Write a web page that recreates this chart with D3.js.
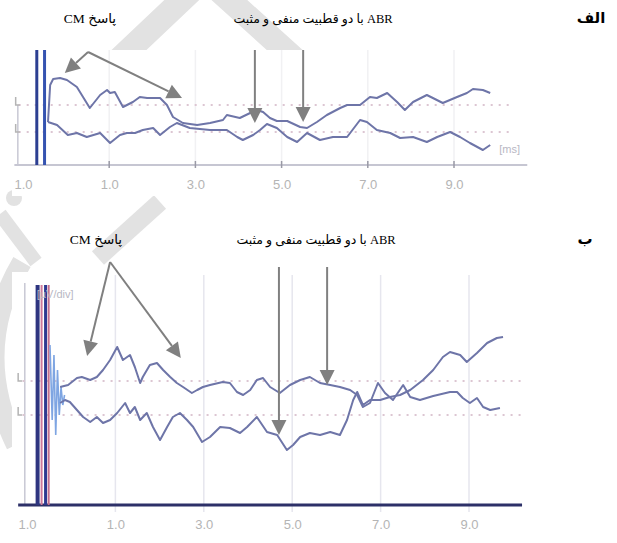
<!DOCTYPE html>
<html>
<head>
<meta charset="utf-8">
<script src="https://cdn.jsdelivr.net/npm/d3@7"></script>
<style>
  body { margin: 0; background: #fff; }
  text { font-family: "Liberation Sans", Arial, sans-serif; }
  .fa { font-family: "Liberation Serif", "DejaVu Sans", serif; }
</style>
</head>
<body>
<svg id="fig" width="617" height="543"></svg>
<script>
// x in ms, y in display units (baseline-relative amplitude)
var tickValues = [-1, 1, 3, 5, 7, 9];
var tickLabels = ["1.0", "1.0", "3.0", "5.0", "7.0", "9.0"];

// panel "الف"
var upperA = [[-0.42,43],[-0.37,80],[-0.30,86],[-0.14,87],[0.02,85],[0.25,78],[0.55,57],[0.79,70],[0.95,75],[1.02,72],[1.13,73],[1.32,58],[1.55,63],[1.71,68],[1.88,67],[2.18,67],[2.34,60],[2.48,48],[2.71,42],[3.04,40],[3.34,42],[3.64,45],[3.73,50],[4.03,47],[4.27,52],[4.43,55],[4.57,53],[4.73,47],[4.89,44],[5.13,44],[5.43,38],[5.59,37],[5.82,43],[6.05,50],[6.36,57],[6.52,60],[6.82,60],[7.05,68],[7.21,67],[7.45,72],[7.68,63],[7.86,55],[8.05,63],[8.37,70],[8.51,67],[8.74,62],[9.07,68],[9.30,72],[9.44,76],[9.67,75],[9.84,72]];
var lowerA = [[-0.42,43],[-0.21,40],[0.04,30],[0.25,32],[0.48,28],[0.79,32],[1.02,22],[1.25,30],[1.41,32],[1.60,32],[1.78,35],[2.02,37],[2.18,30],[2.41,38],[2.57,42],[2.87,37],[3.34,35],[3.73,35],[3.97,28],[4.10,25],[4.34,30],[4.50,35],[4.66,41],[4.89,37],[5.13,28],[5.36,23],[5.59,32],[5.89,25],[6.19,28],[6.52,28],[6.82,45],[6.98,43],[7.21,35],[7.52,32],[7.75,27],[8.05,28],[8.37,23],[8.61,28],[8.91,33],[9.14,28],[9.37,22],[9.67,15],[9.84,20]];
var artifactA = [[-0.68, "#2c3f92", 3], [-0.50, "#3553b0", 3]];
var baselinesA = [60, 33];

// panel "ب"
var upperB = [[-0.25,118],[-0.07,120],[0.13,127],[0.24,128],[0.43,125],[0.58,128],[0.72,135],[0.88,145],[1.04,158],[1.17,145],[1.33,150],[1.44,138],[1.56,122],[1.62,128],[1.78,140],[1.94,142],[2.08,135],[2.24,128],[2.39,122],[2.53,118],[2.73,112],[2.85,115],[2.98,118],[3.14,120],[3.43,123],[3.59,122],[3.75,113],[3.89,110],[4.05,115],[4.20,125],[4.34,127],[4.50,118],[4.72,112],[4.95,120],[5.18,125],[5.40,128],[5.63,122],[5.86,120],[6.08,118],[6.31,115],[6.47,110],[6.60,98],[6.76,102],[6.94,122],[7.10,112],[7.28,105],[7.51,120],[7.67,108],[7.89,105],[8.19,109],[8.57,113],[8.73,113],[8.86,107],[9.02,102],[9.18,107],[9.32,98],[9.48,95],[9.70,97]];
var lowerB = [[-0.25,102],[-0.14,105],[-0.03,103],[0.13,95],[0.27,88],[0.43,83],[0.58,88],[0.72,82],[0.88,85],[1.04,92],[1.22,102],[1.33,92],[1.44,98],[1.56,85],[1.71,92],[1.85,78],[2.01,65],[2.17,78],[2.30,88],[2.46,92],[2.62,85],[2.76,78],[2.96,63],[3.14,68],[3.37,78],[3.59,77],[3.82,72],[3.98,78],[4.20,88],[4.43,73],[4.66,70],[4.88,55],[5.02,60],[5.18,68],[5.40,72],[5.63,70],[5.86,73],[6.08,70],[6.24,85],[6.38,105],[6.47,113],[6.60,100],[6.76,105],[6.99,105],[7.21,108],[7.44,110],[7.67,115],[7.96,125],[8.19,135],[8.41,148],[8.57,153],[8.80,150],[8.95,143],[9.18,152],[9.41,162],[9.63,167],[9.77,168]];
var ringB = [[-0.48,160],[-0.43,85],[-0.39,150],[-0.35,70],[-0.31,135],[-0.27,90],[-0.23,118],[-0.19,100],[-0.15,110]];
var artifactB = [[-0.76, "#2e3580", 4], [-0.67, "#d07a9a", 2], [-0.58, "#2e3a90", 3], [-0.51, "#c4708e", 2]];
var baselinesB = [124, 90];

// annotation arrows [x0, y0, x1, y1] in data units
var cmArrowsA = [[0.51,113,-0.03,92],[0.51,113,2.69,67]];
var abrArrowsA = [[4.38,115,4.38,42],[5.50,115,5.50,43]];
var cmArrowsB = [[0.88,243,0.36,149],[0.88,243,2.48,147]];
var abrArrowsB = [[4.70,238,4.70,70],[5.79,238,5.79,120]];

var labelCM = "پاسخ CM";
var labelABR = "ABR با دو قطبیت منفی و مثبت";
var panelNames = ["الف", "ب"];

var svg = d3.select("#fig");

// faint watermark behind the figure
var wm = svg.append("g").attr("fill", "none").attr("stroke", "#e2e2e2");
wm.append("path").attr("d", "M 110 68 L 205 -22 L 298 62").attr("stroke-width", 24);
wm.append("path").attr("d", "M 22 262 Q -30 350 16 445").attr("stroke-width", 20);
wm.append("path").attr("d", "M 0 214 L 36 262").attr("stroke-width", 14);
wm.append("path").attr("d", "M 160 202 L 98 258").attr("stroke-width", 18);
wm.append("circle").attr("cx", 14).attr("cy", 198).attr("r", 8).attr("fill", "#e2e2e2").attr("stroke", "none");

function arrow(g, x0, y0, x1, y1) {
  var dx = x1 - x0, dy = y1 - y0, len = Math.sqrt(dx * dx + dy * dy);
  var ux = dx / len, uy = dy / len, hl = 15, hw = 7.5;
  var bx = x1 - ux * hl, by = y1 - uy * hl;
  g.append("line").attr("x1", x0).attr("y1", y0).attr("x2", bx).attr("y2", by)
    .attr("stroke", "#808080").attr("stroke-width", 2);
  g.append("path")
    .attr("d", "M" + x1 + "," + y1 + "L" + (bx - uy * hw) + "," + (by + ux * hw) + "L" + (bx + uy * hw) + "," + (by - ux * hw) + "Z")
    .attr("fill", "#808080");
}

function panel(o) {
  var x = d3.scaleLinear().domain([-1, 9]).range(o.xRange);
  var y = d3.scaleLinear().domain(o.yDomain).range(o.yRange);
  var g = svg.append("g");

  g.append("rect").attr("x", o.box[0]).attr("y", o.box[1])
    .attr("width", o.box[2]).attr("height", o.box[3]).attr("fill", "#fff");

  // vertical grid
  g.selectAll(".grid").data(tickValues.slice(1)).enter().append("line")
    .attr("x1", function(d) { return x(d); }).attr("x2", function(d) { return x(d); })
    .attr("y1", y(o.yDomain[1])).attr("y2", y(0) + o.gridBelow)
    .attr("stroke", o.gridColor).attr("stroke-width", 1.5);

  // left axis
  g.append("line").attr("x1", x(o.leftAxis)).attr("x2", x(o.leftAxis))
    .attr("y1", y(o.leftTop)).attr("y2", y(0))
    .attr("stroke", "#c8c8d4").attr("stroke-width", 1.5);

  // dotted baselines + L markers
  o.baselines.forEach(function(b) {
    g.append("line").attr("x1", x(-1.1)).attr("x2", x(10.3))
      .attr("y1", y(b)).attr("y2", y(b))
      .attr("stroke", "#dcc6d2").attr("stroke-width", 2).attr("stroke-dasharray", "2,6");
    g.append("path")
      .attr("d", "M" + x(o.leftMark) + "," + (y(b) - 8) + "V" + y(b) + "h4")
      .attr("fill", "none").attr("stroke", "#b4b4b4").attr("stroke-width", 1.5);
  });

  // x axis line
  g.append("line").attr("x1", x(-1.2)).attr("x2", x(o.axisEnd))
    .attr("y1", y(0)).attr("y2", y(0))
    .attr("stroke", o.axisColor).attr("stroke-width", o.axisWidth);
  if (o.axisTicks) {
    g.selectAll(".tk").data(tickValues.slice(1)).enter().append("line")
      .attr("x1", function(d) { return x(d); }).attr("x2", function(d) { return x(d); })
      .attr("y1", y(0) - 4).attr("y2", y(0) + 3)
      .attr("stroke", "#9a9aa6").attr("stroke-width", 1.5);
  }

  var axis = d3.axisBottom(x).tickValues(tickValues).tickSize(0)
    .tickFormat(function(d, i) { return tickLabels[i]; });
  var ax = g.append("g").attr("transform", "translate(0," + (y(0) + o.labelGap) + ")").call(axis);
  ax.select(".domain").remove();
  ax.selectAll("text").attr("fill", "#b4b4b4").attr("font-size", 13)
    .style("font-family", "'Liberation Sans', Arial, sans-serif");

  // stimulus artifact
  o.artifact.forEach(function(a) {
    g.append("line").attr("x1", x(a[0])).attr("x2", x(a[0]))
      .attr("y1", y(o.artifactTop)).attr("y2", y(0))
      .attr("stroke", a[1]).attr("stroke-width", a[2]);
  });

  var line = d3.line().x(function(d) { return x(d[0]); }).y(function(d) { return y(d[1]); });
  if (o.ring) {
    g.append("path").attr("d", line(o.ring)).attr("fill", "none")
      .attr("stroke", "#7ea5e2").attr("stroke-width", 1.6);
  }
  [o.upper, o.lower].forEach(function(s) {
    g.append("path").attr("d", line(s)).attr("fill", "none")
      .attr("stroke", "#6e75a8").attr("stroke-width", 2).attr("stroke-linejoin", "round");
  });

  if (o.unit) {
    g.append("text").attr("x", x(o.unit[0])).attr("y", y(o.unit[1]))
      .attr("fill", "#b8b8c4").attr("font-size", 11).text(o.unit[2]);
  }

  o.arrows.forEach(function(a) { arrow(g, x(a[0]), y(a[1]), x(a[2]), y(a[3])); });

  // captions
  g.append("text").attr("class", "fa").attr("direction", "rtl").attr("text-anchor", "middle")
    .attr("x", o.cmX).attr("y", o.textY).attr("font-size", 13.5).text(labelCM);
  g.append("text").attr("class", "fa").attr("direction", "rtl").attr("text-anchor", "middle")
    .attr("x", o.abrX).attr("y", o.textY).attr("font-size", 12.5).text(labelABR);
  g.append("text").attr("class", "fa").attr("direction", "rtl").attr("text-anchor", "middle")
    .attr("x", o.nameX).attr("y", o.textY).attr("font-size", 15).attr("font-weight", "bold").text(o.name);
}

panel({
  xRange: [23, 454], yDomain: [0, 115], yRange: [165, 50], box: [12, 50, 520, 146],
  gridColor: "#f1f1f3", gridBelow: 0, leftAxis: -1.12, leftTop: 60, leftMark: -1.17,
  baselines: baselinesA, axisEnd: 10.7, axisColor: "#c6c6d2", axisWidth: 2, axisTicks: true,
  labelGap: 12, artifact: artifactA, artifactTop: 115, upper: upperA, lower: lowerA,
  unit: [10.05, 12, "[ms]"], arrows: cmArrowsA.concat(abrArrowsA),
  textY: 23, cmX: 90, abrX: 313, nameX: 591, name: panelNames[0]
});

panel({
  xRange: [27, 469], yDomain: [0, 230], yRange: [505, 275], box: [12, 272, 520, 271],
  gridColor: "#e6e6ee", gridBelow: 7, leftAxis: -1.05, leftTop: 222, leftMark: -1.2,
  baselines: baselinesB, axisEnd: 10.2, axisColor: "#2d3068", axisWidth: 3, axisTicks: false,
  labelGap: 12, artifact: artifactB, artifactTop: 220, upper: upperB, lower: lowerB, ring: ringB,
  unit: [-0.78, 207, "[µV/div]"], arrows: cmArrowsB.concat(abrArrowsB),
  textY: 244, cmX: 96, abrX: 316, nameX: 585, name: panelNames[1]
});
</script>
</body>
</html>
